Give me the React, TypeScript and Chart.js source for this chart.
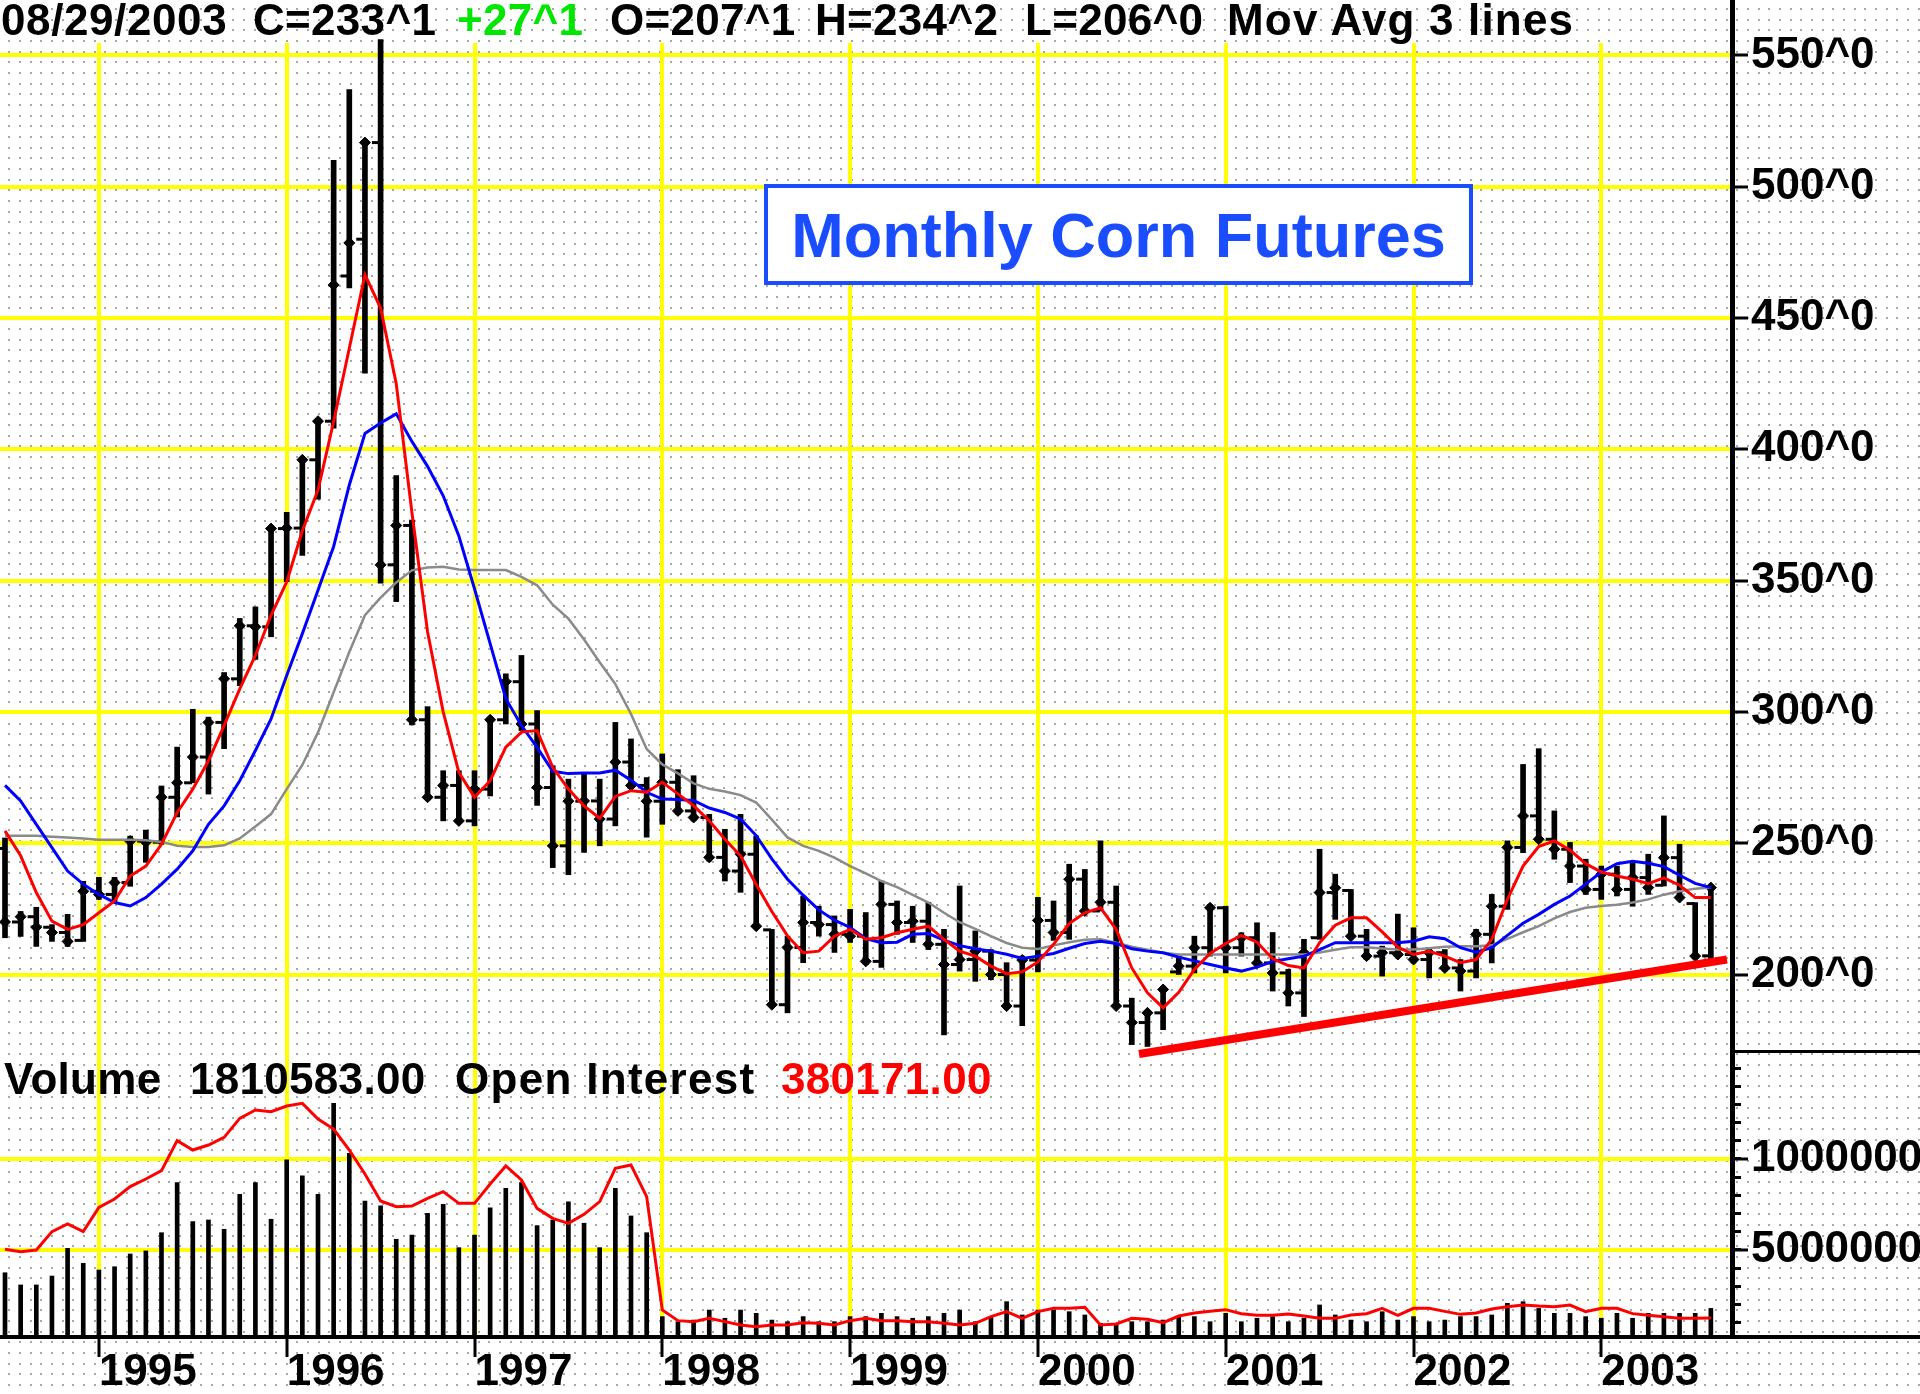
import React, { useEffect, useRef } from 'react';
import { Chart, registerables } from 'chart.js';

Chart.register(...registerables);

const FONT = '"Liberation Sans", Arial, Helvetica, sans-serif';

// ---- categories: monthly bars, index 0 = Jul 1994 ... 109 = Aug 2003 ----
const MONTH_COUNT = 110;
const MONTHS = Array.from({ length: MONTH_COUNT }, (_, i) => i);

const YEAR_TICKS = [6, 18, 30, 42, 54, 66, 78, 90, 102];
const YEAR_LABELS = ['1995', '1996', '1997', '1998', '1999', '2000', '2001', '2002', '2003'];
const PRICE_TICKS = [200, 250, 300, 350, 400, 450, 500, 550];
const VOLUME_TICKS = [5000000, 10000000];
const VOLUME_MINOR_TICKS = [1000000, 2000000, 3000000, 4000000, 5000000, 6000000, 7000000, 8000000, 9000000, 10000000, 11000000, 12000000, 13000000, 14000000, 15000000];

// ---- monthly OHLC (cents / bushel) ----
const OPEN = [
  248, 220, 222, 218, 216, 213, 231.7, 230.5, 235, 250.8,
  250.4, 267.5, 273, 282.8, 296, 312.6, 332.8, 332.4, 369.8, 370,
  396, 410.7, 466, 480, 516.8, 356, 371, 297, 267.5, 272,
  258.5, 270.6, 297, 311.5, 295.4, 271.2, 249, 266, 266.1, 259.2,
  280.9, 272, 266, 273.2, 262.3, 259.8, 244.6, 239.4, 245.8, 217,
  188.5, 210.3, 219.8, 219, 215.3, 214.6, 205, 226.7, 219.8, 220.3,
  211.5, 203.8, 205.7, 208.9, 200, 188, 205.5, 220.6, 216, 236.3,
  224.2, 227.5, 188, 181.7, 185.4, 201, 203.2, 210.2, 225.4, 210.2,
  214, 204.4, 200.6, 193, 214, 231.2, 232, 214.6, 207, 208.3,
  207.6, 205.7, 208.3, 202.5, 201.3, 215.3, 226, 248.4, 260.4, 251.5,
  247.7, 241.3, 232.4, 238.2, 232.4, 236.9, 234, 244.5, 227, 207.1,
];
const HIGH = [
  252, 224, 225.6, 219, 222.9, 235.5, 237, 237, 252.7, 255,
  271.8, 286.6, 301, 298, 315, 335.6, 340, 371, 376, 397,
  411.8, 510, 537, 517.6, 556, 390, 373, 302, 277.6, 277.6,
  277.6, 298, 314.5, 321.5, 300.5, 279.5, 274.4, 277, 274.4, 296,
  289.7, 275, 284, 278, 275.7, 261, 255.3, 261, 252.8, 217.2,
  214.6, 229.9, 226, 222.3, 224.8, 223.6, 235.6, 228, 226, 227.5,
  217.2, 233.7, 216.6, 209.5, 204.5, 207, 229.4, 228, 242, 240,
  250.9, 233.7, 191, 186, 195.5, 207, 214.6, 226.7, 226, 215.9,
  219.7, 216, 202, 213.4, 247.7, 238.2, 232.4, 217.2, 210.8, 223,
  217.8, 210.2, 209.5, 205.7, 217.2, 230.5, 250.9, 280, 286, 262.3,
  250.3, 243.9, 241.3, 241.3, 242.6, 245.8, 260.4, 249.6, 227.4, 234.2,
];
const LOW = [
  214, 214.5, 210.7, 212.6, 210.7, 212.6, 228.6, 227.5, 233.6, 242.7,
  249.6, 260, 273, 268.7, 286, 310, 320, 328.6, 349.6, 359.6,
  381, 408, 461.5, 429, 349, 342, 295, 266.8, 258.5, 258,
  256.6, 268, 295.4, 292.9, 264.4, 240.7, 238, 246.5, 249, 256.6,
  271, 252.3, 257.2, 261, 258.5, 243.2, 235.6, 231.3, 218, 188,
  185.4, 204.5, 214.6, 208.4, 212.2, 203.8, 202.7, 215.3, 212.2, 209.5,
  177, 201.3, 197.4, 198, 187.4, 180.5, 201, 213, 213.4, 223.6,
  224.2, 188, 173.3, 172.6, 179, 200, 200.6, 207, 200.6, 207,
  203.2, 193.7, 188, 184, 213.4, 221, 214, 205.7, 199.4, 207,
  204.4, 198.7, 201.3, 193.7, 198.7, 204.4, 224.8, 246.4, 250.4, 243.9,
  235, 230.5, 228.6, 229.9, 226, 230.5, 233.7, 228.6, 206.4, 206,
];
const CLOSE = [
  220, 222, 218, 216, 212.6, 231.7, 230.5, 235, 250.8, 250.4,
  267.5, 273, 282.8, 296, 312.6, 332.8, 332.4, 369.8, 370, 396,
  410.7, 462.6, 478.6, 516.8, 356, 371, 297, 267.5, 272, 258.5,
  270.6, 297, 311.5, 295.4, 271.2, 249, 266, 266.1, 259.2, 280.9,
  272, 266, 273.2, 262.3, 259.8, 244.6, 239.4, 245.8, 218.4, 188.5,
  210.3, 219.8, 219, 215.3, 214.6, 205, 226.7, 219.8, 220.3, 211.5,
  203.8, 205.7, 208.9, 200, 188, 205.5, 220.6, 216, 236.3, 224.2,
  227.5, 188, 181.7, 185.4, 194.3, 203.2, 210.2, 225.4, 210.2, 214,
  204.4, 200.6, 193, 208.3, 231.2, 233, 214.6, 207, 208.3, 207.6,
  205.7, 208.3, 202.5, 201.3, 215.3, 226, 248.4, 260.4, 251.5, 247.7,
  241.3, 232.4, 238.2, 232.4, 236.9, 233.1, 244.5, 229.3, 207, 233.1,
];

// ---- the three moving-average lines ----
const MA_RED = [
  254.7, 245.2, 231.2, 220.3, 217.2, 219, 223.5, 228, 237.5, 241.3,
  249.6, 261.7, 270.6, 281.4, 294.8, 308.8, 321.5, 336.8, 349.5, 369,
  384.5, 410.6, 438.5, 466.5, 453.8, 425, 376, 330.5, 300, 277,
  267.5, 273.8, 286.6, 292.3, 292.9, 278.9, 270.6, 264.2, 259.5, 267.8,
  270, 269.4, 273.2, 268.8, 264.3, 258.5, 251.5, 245.2, 234.3, 224,
  214.7, 208.3, 208.9, 214.6, 217.2, 213.4, 214, 215.9, 217.2, 218.4,
  213.4, 208.9, 207, 203.2, 200.3, 201, 204.8, 211.5, 219.4, 223.5,
  225.4, 217.2, 202.5, 193, 187.3, 193.2, 201.9, 208, 211.8, 214.9,
  212.3, 206, 203.4, 202.5, 212.1, 218.8, 221.6, 221.6, 216.2, 210.4,
  207.6, 208.8, 207, 204.5, 205.7, 213.4, 228.6, 241.3, 248.7, 250.9,
  247.4, 242.2, 239, 237.5, 236.3, 234.6, 236.8, 234, 229.3, 229.3,
];
const MA_BLUE = [
  272, 266.1, 257.2, 248.3, 239.4, 234.4, 230.5, 227.4, 226.1, 229.3,
  234.4, 240.1, 247.1, 257.2, 264.2, 273.8, 285.3, 297.3, 313.9, 329.8,
  346.3, 363, 386.4, 406, 410, 413.5, 403, 393.5, 382.3, 367,
  346.9, 326, 305, 294.8, 286.5, 277.4, 276.5, 276.7, 276.7, 277.8,
  274, 269.4, 266.8, 266.6, 266.3, 263.4, 261.7, 259.2, 252.9, 244,
  236.3, 230.2, 224.6, 220.7, 217.9, 213.7, 212.1, 212.3, 215.3, 215.6,
  213.1, 211, 209.8, 208.9, 207.7, 206.1, 207, 208, 210, 211.8,
  212.7, 211.8, 209.8, 208.9, 208.3, 206.6, 205.2, 203.8, 202.5, 201.3,
  202.8, 205, 206, 207, 209.5, 212.1, 212.1, 212.1, 212.1, 212.1,
  212.7, 214.4, 213.6, 210.2, 208.5, 210.2, 214.9, 219.5, 222.9, 226.7,
  229.9, 234.4, 239, 242.2, 243.1, 242.4, 241.1, 237.8, 234.7, 233.1,
];
const MA_GRAY = [
  252.8, 252.8, 252.8, 252.5, 252.2, 251.8, 251.3, 251.3, 251.3, 251.1,
  250.5, 249, 248.6, 248.6, 249.2, 251.8, 256.4, 261.1, 270.6, 279.8,
  292.2, 307.5, 322.8, 336.8, 343.5, 349.3, 353.9, 355, 355.3, 354.2,
  354, 354, 354, 351.4, 348.2, 340.8, 335.5, 327.6, 318.9, 310.6,
  299.2, 285.9, 280, 276.6, 272.8, 270.7, 269.7, 268.3, 265.5, 259,
  252.2, 249, 247.1, 244.5, 241.3, 238.5, 235.6, 233.3, 230.3, 227.4,
  223.5, 219.9, 217.4, 214.6, 212, 210.2, 209.7, 211.1, 212.3, 213.2,
  213.4, 212.1, 210.6, 209.4, 208.3, 207.6, 207.6, 207.6, 207.6, 207.6,
  207.6, 207.6, 207.6, 207.6, 208.4, 209.4, 210.4, 210.4, 209.9, 209.5,
  209.5, 210, 210.6, 210.8, 210.8, 211.1, 213.6, 216.1, 218.4, 221.4,
  223.8, 225.4, 226.1, 226.6, 227.4, 228.6, 230.4, 231.7, 232.7, 233.1,
];

// ---- red support trend line (month index, price) ----
const TREND_X = [72.46, 110.03];
const TREND_Y = [169.7, 205.7];

// ---- volume (contracts) and open interest ----
const VOLUME = [
  3750000, 3080000, 3080000, 3570000, 5090000, 4270000, 3900000, 4080000, 4780000, 4950000,
  5950000, 8700000, 6560000, 6650000, 6140000, 8060000, 8700000, 6690000, 9950000, 9070000,
  8060000, 13060000, 10310000, 7690000, 7430000, 5590000, 5820000, 7020000, 7510000, 5130000,
  5820000, 7320000, 8390000, 8700000, 6340000, 6650000, 7650000, 6470000, 5130000, 8390000,
  6870000, 5950000, 1340000, 1060000, 1150000, 1700000, 1250000, 1700000, 1520000, 1150000,
  1060000, 1340000, 1060000, 1060000, 1340000, 1340000, 1520000, 1340000, 1250000, 1340000,
  1520000, 1700000, 1060000, 1340000, 2160000, 1430000, 1700000, 1700000, 1610000, 1430000,
  970000, 970000, 1060000, 1060000, 1150000, 1340000, 1340000, 1060000, 1520000, 1060000,
  1250000, 1340000, 1060000, 1250000, 1980000, 1430000, 1150000, 1060000, 1610000, 1150000,
  1340000, 1060000, 1150000, 1340000, 1340000, 1430000, 2070000, 2160000, 1790000, 1520000,
  1520000, 1340000, 1250000, 1520000, 1250000, 1520000, 1520000, 1520000, 1520000, 1790000,
];
const OPEN_INTEREST = [
  1754000, 1707000, 1740000, 2107000, 2260000, 2107000, 2593000, 2760000, 3007000, 3160000,
  3327000, 3927000, 3740000, 3840000, 3993000, 4373000, 4540000, 4507000, 4620000, 4673000,
  4360000, 4160000, 3740000, 3260000, 2720000, 2607000, 2620000, 2773000, 2907000, 2673000,
  2673000, 3060000, 3420000, 3140000, 2573000, 2373000, 2273000, 2453000, 2707000, 3373000,
  3440000, 2807000, 540000, 327000, 307000, 373000, 307000, 240000, 207000, 240000,
  240000, 287000, 273000, 240000, 327000, 373000, 327000, 327000, 307000, 307000,
  273000, 240000, 273000, 407000, 507000, 373000, 507000, 573000, 573000, 593000,
  240000, 260000, 373000, 353000, 287000, 420000, 480000, 513000, 547000, 467000,
  433000, 433000, 460000, 420000, 373000, 373000, 440000, 467000, 573000, 433000,
  573000, 573000, 513000, 453000, 480000, 560000, 607000, 640000, 620000, 607000,
  640000, 507000, 573000, 573000, 467000, 433000, 407000, 373000, 373000, 380171,
];

// ---- layout constants (pixels / scale limits) ----
const W = 1920;
const H = 1394;
const AXIS_X = 1732;
const PRICE_TOP = 43;
const PANEL_SPLIT = 1051;
const VOL_BOTTOM = 1337;
const X_MIN = -5 / 15.65;
const X_MAX = (AXIS_X - 5) / 15.65;
const P_MIN = 170.87;
const P_MAX = 554.72;
const V_MIN = 219780;
const V_MAX = 15934066;
const OI_MAX = 5720000;

const YELLOW = '#ffff00';
const TITLE_BLUE = '#1a4dff';

const tickFont = { family: FONT, size: 44, weight: 'bold' as const, lineHeight: 1 };

function zeroPad(s: any) {
  s.paddingTop = 0;
  s.paddingBottom = 0;
  s.paddingLeft = 0;
  s.paddingRight = 0;
}

export default function App() {
  const bgRef = useRef<HTMLCanvasElement>(null);
  const priceRef = useRef<HTMLCanvasElement>(null);
  const volRef = useRef<HTMLCanvasElement>(null);

  useEffect(() => {
    document.body.style.margin = '0';
    document.body.style.overflow = 'hidden';

    // dotted chart paper
    const bg = bgRef.current!;
    const bctx = bg.getContext('2d')!;
    bctx.fillStyle = '#ffffff';
    bctx.fillRect(0, 0, W, H);
    bctx.fillStyle = '#a8a8a8';
    const step = 32 / 3;
    for (let y = 9; y < H; y += step) {
      for (let x = 9.3; x < W; x += step) {
        bctx.fillRect(Math.round(x) - 1, Math.round(y) - 1, 2, 2);
      }
    }

    Chart.defaults.font.family = FONT;

    const priceChart = new Chart(priceRef.current!, {
      type: 'line',
      data: {
        datasets: [
          {
            type: 'bar',
            label: 'High-Low',
            data: MONTHS.map((i) => ({ x: i, y: [LOW[i], HIGH[i]] })) as any,
            backgroundColor: '#000000',
            borderWidth: 0,
            barThickness: 5,
            clip: false as any,
            order: 5,
          } as any,
          {
            type: 'line',
            label: 'Open',
            data: MONTHS.map((i) => ({ x: i - 0.3, y: OPEN[i] })),
            showLine: false,
            pointStyle: 'line',
            pointRadius: 4,
            pointBorderWidth: 3,
            pointBorderColor: '#000000',
            clip: false as any,
            order: 4,
          },
          {
            type: 'line',
            label: 'Close',
            data: MONTHS.map((i) => ({ x: i, y: CLOSE[i] })),
            showLine: false,
            pointStyle: 'rectRot',
            pointRadius: 5.5,
            pointBorderWidth: 1,
            pointBackgroundColor: '#000000',
            pointBorderColor: '#000000',
            clip: false as any,
            order: 4,
          },
          {
            type: 'line',
            label: 'MA slow',
            data: MONTHS.map((i) => ({ x: i, y: MA_GRAY[i] })),
            borderColor: '#8a8a8a',
            borderWidth: 2.5,
            pointRadius: 0,
            tension: 0,
            order: 3,
          },
          {
            type: 'line',
            label: 'MA mid',
            data: MONTHS.map((i) => ({ x: i, y: MA_BLUE[i] })),
            borderColor: '#0000ff',
            borderWidth: 3,
            pointRadius: 0,
            tension: 0,
            order: 2,
          },
          {
            type: 'line',
            label: 'MA fast',
            data: MONTHS.map((i) => ({ x: i, y: MA_RED[i] })),
            borderColor: '#ff0000',
            borderWidth: 3,
            pointRadius: 0,
            tension: 0,
            order: 1,
          },
          {
            type: 'line',
            label: 'Trend',
            data: TREND_X.map((x, k) => ({ x, y: TREND_Y[k] })),
            borderColor: '#ff0000',
            borderWidth: 8,
            pointRadius: 0,
            tension: 0,
            clip: false as any,
            order: 0,
          },
        ],
      },
      options: {
        responsive: false,
        animation: false,
        devicePixelRatio: 1,
        events: [],
        layout: { autoPadding: false, padding: { top: PRICE_TOP, left: 0, right: 0, bottom: 9 } },
        plugins: { legend: { display: false }, tooltip: { enabled: false } },
        scales: {
          x: {
            type: 'linear',
            min: X_MIN,
            max: X_MAX,
            offset: false,
            afterBuildTicks: (s: any) => {
              s.ticks = YEAR_TICKS.map((v) => ({ value: v }));
            },
            grid: { color: YELLOW, lineWidth: 4, drawTicks: false, offset: false },
            border: { display: false },
            ticks: { display: false },
            afterFit: (s: any) => {
              s.height = 0;
              zeroPad(s);
            },
          },
          y: {
            position: 'right',
            min: P_MIN,
            max: P_MAX,
            afterBuildTicks: (s: any) => {
              s.ticks = PRICE_TICKS.map((v) => ({ value: v }));
            },
            grid: { color: YELLOW, lineWidth: 4, tickColor: '#000000', tickLength: 16, tickWidth: 3 },
            border: { display: true, color: '#000000', width: 5 },
            ticks: {
              color: '#000000',
              font: tickFont,
              padding: 3,
              autoSkip: false,
              callback: (v: any) => `${v}^0`,
            },
            afterFit: (s: any) => {
              s.width = W - AXIS_X;
              zeroPad(s);
            },
          },
        },
      } as any,
    });

    const volChart = new Chart(volRef.current!, {
      type: 'line',
      data: {
        datasets: [
          {
            type: 'bar',
            label: 'Volume',
            data: MONTHS.map((i) => ({ x: i, y: VOLUME[i] })) as any,
            backgroundColor: '#000000',
            borderWidth: 0,
            barThickness: 4,
            yAxisID: 'y',
            order: 2,
          } as any,
          {
            type: 'line',
            label: 'Open Interest',
            data: MONTHS.map((i) => ({ x: i, y: OPEN_INTEREST[i] })),
            borderColor: '#ff0000',
            borderWidth: 3,
            pointRadius: 0,
            tension: 0,
            yAxisID: 'yOI',
            order: 1,
          },
        ],
      },
      options: {
        responsive: false,
        animation: false,
        devicePixelRatio: 1,
        events: [],
        layout: { autoPadding: false, padding: 0 },
        plugins: { legend: { display: false }, tooltip: { enabled: false } },
        scales: {
          x: {
            type: 'linear',
            min: X_MIN,
            max: X_MAX,
            offset: false,
            afterBuildTicks: (s: any) => {
              s.ticks = YEAR_TICKS.map((v) => ({ value: v }));
            },
            grid: { color: YELLOW, lineWidth: 4, tickColor: '#000000', tickLength: 20, tickWidth: 3, offset: false },
            border: { display: true, color: '#000000', width: 4 },
            ticks: {
              color: '#000000',
              font: tickFont,
              padding: -6,
              align: 'start',
              autoSkip: false,
              maxRotation: 0,
              minRotation: 0,
              callback: (_v: any, idx: number) => YEAR_LABELS[idx],
            },
            afterFit: (s: any) => {
              s.height = H - VOL_BOTTOM;
              zeroPad(s);
            },
          },
          yMinor: {
            position: 'right',
            weight: 0,
            min: V_MIN,
            max: V_MAX,
            afterBuildTicks: (s: any) => {
              s.ticks = VOLUME_MINOR_TICKS.map((v) => ({ value: v }));
            },
            grid: { drawOnChartArea: false, tickColor: '#000000', tickLength: 9, tickWidth: 3 },
            border: { display: false },
            ticks: { display: false },
            afterFit: (s: any) => {
              s.width = 0;
              zeroPad(s);
            },
          },
          y: {
            position: 'right',
            weight: 1,
            min: V_MIN,
            max: V_MAX,
            afterBuildTicks: (s: any) => {
              s.ticks = VOLUME_TICKS.map((v) => ({ value: v }));
            },
            grid: { color: YELLOW, lineWidth: 4, tickColor: '#000000', tickLength: 16, tickWidth: 3 },
            border: { display: true, color: '#000000', width: 5 },
            ticks: {
              color: '#000000',
              font: tickFont,
              padding: 3,
              autoSkip: false,
              callback: (v: any) => String(v),
            },
            afterFit: (s: any) => {
              s.width = W - AXIS_X;
              zeroPad(s);
            },
          },
          yOI: {
            display: false,
            min: 0,
            max: OI_MAX,
          },
        },
      } as any,
    });

    return () => {
      priceChart.destroy();
      volChart.destroy();
    };
  }, []);

  const headerText: React.CSSProperties = {
    position: 'absolute',
    fontFamily: FONT,
    fontWeight: 'bold',
    fontSize: 44,
    lineHeight: '44px',
    letterSpacing: '0.3px',
    whiteSpace: 'nowrap',
    color: '#000000',
  };

  return (
    <div style={{ position: 'absolute', left: 0, top: 0, width: W, height: H, overflow: 'hidden' }}>
      <canvas ref={bgRef} width={W} height={H} style={{ position: 'absolute', left: 0, top: 0 }} />
      <canvas ref={priceRef} width={W} height={PANEL_SPLIT + 9} style={{ position: 'absolute', left: 0, top: 0 }} />
      <canvas ref={volRef} width={W} height={H - PANEL_SPLIT} style={{ position: 'absolute', left: 0, top: PANEL_SPLIT }} />

      {/* axis line above the plot top, panel separator, bottom line extension */}
      <div style={{ position: 'absolute', left: AXIS_X - 2.5, top: 0, width: 5, height: PRICE_TOP + 1, background: '#000' }} />
      <div style={{ position: 'absolute', left: AXIS_X, top: PANEL_SPLIT - 1, width: W - AXIS_X, height: 3, background: '#000' }} />
      <div style={{ position: 'absolute', left: AXIS_X, top: VOL_BOTTOM - 2, width: W - AXIS_X, height: 4, background: '#000' }} />

      {/* header line */}
      <div style={{ ...headerText, left: 1, top: -2, letterSpacing: '0.6px' }}>08/29/2003</div>
      <div style={{ ...headerText, left: 253, top: -2 }}>C=233^1</div>
      <div style={{ ...headerText, left: 457, top: -2, color: '#00e600' }}>+27^1</div>
      <div style={{ ...headerText, left: 610, top: -2 }}>O=207^1</div>
      <div style={{ ...headerText, left: 815, top: -2 }}>H=234^2</div>
      <div style={{ ...headerText, left: 1025, top: -2 }}>L=206^0</div>
      <div style={{ ...headerText, left: 1227, top: -2, letterSpacing: '1.2px' }}>Mov Avg 3 lines</div>

      {/* volume panel header */}
      <div style={{ ...headerText, left: 4, top: 1057 }}>Volume</div>
      <div style={{ ...headerText, left: 190, top: 1057 }}>1810583.00</div>
      <div style={{ ...headerText, left: 455, top: 1057, letterSpacing: '1.3px' }}>Open Interest</div>
      <div style={{ ...headerText, left: 781, top: 1057, color: '#ff0000' }}>380171.00</div>

      {/* title box */}
      <div
        style={{
          position: 'absolute',
          left: 764,
          top: 184,
          width: 709,
          height: 101,
          boxSizing: 'border-box',
          border: `4px solid ${TITLE_BLUE}`,
          background: '#ffffff',
        }}
      >
        <div
          style={{
            position: 'absolute',
            left: 0,
            top: 15.7,
            width: '100%',
            textAlign: 'center',
            fontFamily: FONT,
            fontWeight: 'bold',
            fontSize: 63,
            lineHeight: '63px',
            whiteSpace: 'nowrap',
            color: TITLE_BLUE,
          }}
        >
          Monthly Corn Futures
        </div>
      </div>
    </div>
  );
}
